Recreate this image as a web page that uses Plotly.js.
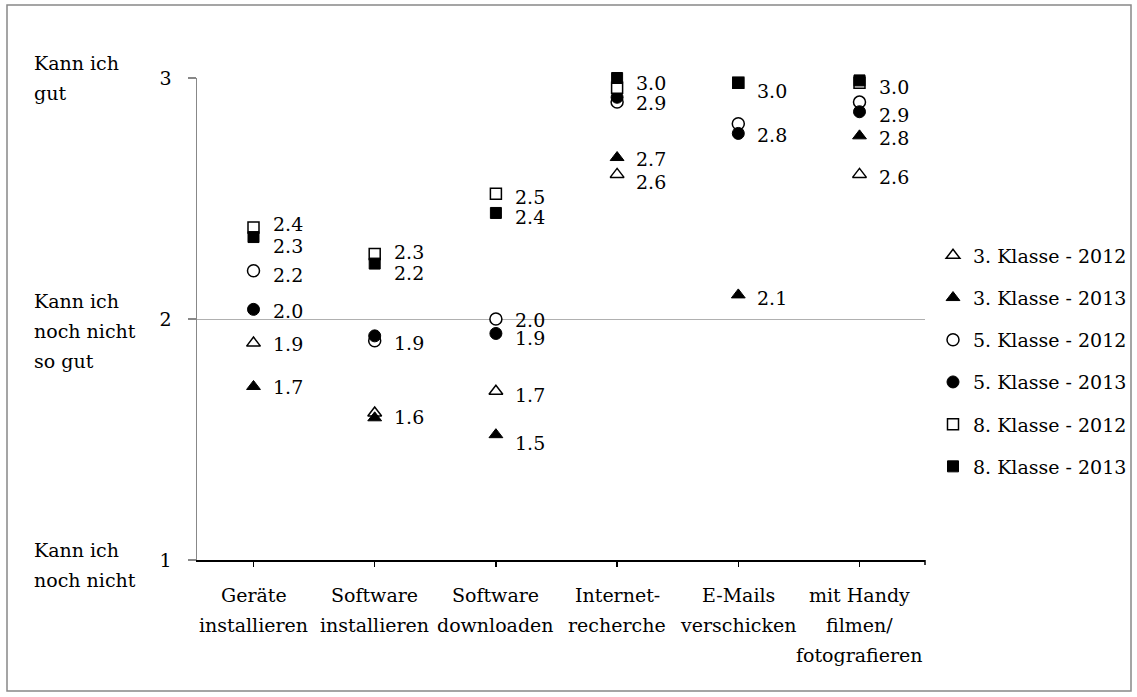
<!DOCTYPE html>
<html>
<head>
<meta charset="utf-8">
<script src="https://cdn.plot.ly/plotly-3.0.1.min.js"></script>
<style>
  html, body { margin: 0; padding: 0; background: #ffffff; }
  #chart { width: 1137px; height: 697px; }
</style>
</head>
<body>
<div id="chart"></div>
<script>
// ---------- data ----------
const categories = ['Geräte installieren', 'Software installieren', 'Software downloaden',
                    'Internet-recherche', 'E-Mails verschicken', 'mit Handy filmen/fotografieren'];
const categoryLines = [['Geräte', 'installieren'], ['Software', 'installieren'], ['Software', 'downloaden'],
                       ['Internet-', 'recherche'], ['E-Mails', 'verschicken'], ['mit Handy', 'filmen/', 'fotografieren']];

const seriesNames = ['3. Klasse - 2012', '3. Klasse - 2013', '5. Klasse - 2012',
                     '5. Klasse - 2013', '8. Klasse - 2012', '8. Klasse - 2013'];
const klasse3_2012 = [1.90, 1.61, 1.70, 2.60, null, 2.60];
const klasse3_2013 = [1.72, 1.59, 1.52, 2.67, 2.10, 2.76];
const klasse5_2012 = [2.20, 1.91, 2.00, 2.90, 2.81, 2.90];
const klasse5_2013 = [2.04, 1.93, 1.94, 2.92, 2.77, 2.86];
const klasse8_2012 = [2.38, 2.27, 2.52, 2.96, 2.98, 2.98];
const klasse8_2013 = [2.34, 2.23, 2.44, 3.00, 2.98, 2.99];

const yTickVals = [1, 2, 3];
const yLevelText = [['Kann ich', 'noch nicht'], ['Kann ich', 'noch nicht', 'so gut'], ['Kann ich', 'gut']];

// ---------- style ----------
const FONT = 'DejaVu Serif, Liberation Serif, serif';
const FS = 19;
const seriesValues = [klasse3_2012, klasse3_2013, klasse5_2012, klasse5_2013, klasse8_2012, klasse8_2013];
const symbols = ['triangle-up', 'triangle-up', 'circle', 'circle', 'square', 'square'];
const filled = [false, true, false, true, false, true];
const msize = [12, 12, 12, 12, 11, 11];
// label placement (pixel nudge downward, null = no label shown)
const labelNudge = [
  [0, null, 3, 7, null, 2],
  [0, -2, 7, 0, 2, 1],
  [3, 1, 0, 0, null, null],
  [1, null, 4, null, 1, 2],
  [-4, -3, 2, null, null, null],
  [8, 8, 3, 4, 7, 6]
];
const levelFirstOffset = [-10, -18, -15];
const lineStep = 30;
const catFirstOffset = 35;

const traces = seriesNames.map((name, i) => ({
  type: 'scatter',
  mode: 'markers',
  name: name,
  legendgroup: 'g' + i,
  x: categories,
  y: seriesValues[i],
  cliponaxis: false,
  hoverinfo: 'skip',
  marker: {
    symbol: symbols[i],
    size: msize[i],
    color: filled[i] ? '#000000' : '#ffffff',
    line: { color: '#000000', width: filled[i] ? 1 : 1.5 }
  }
}));

const annotations = [];
// value labels
seriesValues.forEach((vals, i) => {
  vals.forEach((v, j) => {
    const n = labelNudge[i][j];
    if (v === null || n === null) return;
    annotations.push({
      x: categories[j], y: v, xref: 'x', yref: 'y',
      text: v.toFixed(1), showarrow: false,
      xanchor: 'left', yanchor: 'middle',
      xshift: 17, yshift: -(n + 1),
      font: { family: FONT, size: FS, color: '#000000' }
    });
  });
});
// category labels
categoryLines.forEach((lines, j) => {
  lines.forEach((t, k) => {
    annotations.push({
      x: categories[j], y: 0, xref: 'x', yref: 'paper',
      text: t, showarrow: false, xanchor: 'center', yanchor: 'middle',
      yshift: -(catFirstOffset + k * lineStep),
      font: { family: FONT, size: FS, color: '#000000' }
    });
  });
});
// y level descriptions
yLevelText.forEach((lines, j) => {
  lines.forEach((t, k) => {
    annotations.push({
      x: (32 - 197) / 728, y: yTickVals[j], xref: 'paper', yref: 'y',
      text: t, showarrow: false, xanchor: 'left', yanchor: 'middle',
      yshift: -(levelFirstOffset[j] + k * lineStep),
      font: { family: FONT, size: FS, color: '#000000' }
    });
  });
});

const layout = {
  width: 1137, height: 697,
  margin: { l: 197, r: 212, t: 78, b: 137, pad: 0, autoexpand: false },
  paper_bgcolor: '#ffffff', plot_bgcolor: '#ffffff',
  font: { family: FONT, size: FS, color: '#000000' },
  showlegend: true,
  legend: {
    xref: 'container', yref: 'container',
    x: 933 / 1137, xanchor: 'left', y: 1 - 361 / 697, yanchor: 'middle',
    font: { family: FONT, size: FS, color: '#000000' },
    tracegroupgap: 14.5, itemwidth: 30, bgcolor: 'rgba(0,0,0,0)'
  },
  xaxis: {
    type: 'category',
    showticklabels: false,
    showgrid: false, zeroline: false,
    showline: true, linecolor: '#000000', linewidth: 2,
    ticks: 'outside', ticklen: 5, tickwidth: 1.5, tickcolor: '#000000',
    fixedrange: true
  },
  yaxis: {
    range: [1, 3],
    tickvals: yTickVals,
    ticktext: yTickVals.map(String),
    showgrid: true, gridcolor: '#b0b0b0', gridwidth: 1,
    zeroline: false,
    showline: true, linecolor: '#888888', linewidth: 1.5,
    ticks: 'outside', ticklen: 8, tickwidth: 1.5, tickcolor: '#888888',
    ticklabelstandoff: 12,
    tickfont: { family: FONT, size: FS, color: '#000000' },
    fixedrange: true
  },
  annotations: annotations,
  shapes: [
    { type: 'rect', xref: 'paper', yref: 'paper',
      x0: (7 - 197) / 728, x1: (1131 - 197) / 728,
      y0: (560 - 691) / 482, y1: (560 - 5) / 482,
      line: { color: '#888888', width: 1.5 }, fillcolor: 'rgba(0,0,0,0)', layer: 'below' },
    { type: 'line', xref: 'paper', yref: 'paper', ysizemode: 'pixel', yanchor: 0,
      x0: 1, x1: 1, y0: 0, y1: -5, line: { color: '#000000', width: 1.5 } }
  ]
};

Plotly.newPlot('chart', traces, layout, { displayModeBar: false, staticPlot: true });
</script>
</body>
</html>
